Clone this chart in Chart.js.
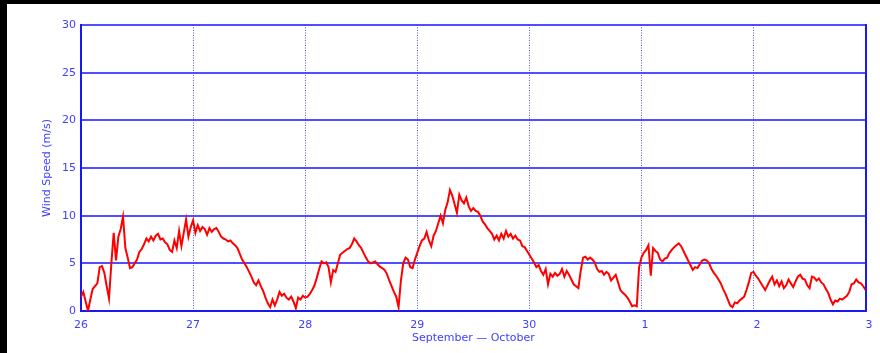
<!DOCTYPE html>
<html>
<head>
<meta charset="utf-8">
<script src="https://cdn.jsdelivr.net/npm/chart.js@4/dist/chart.umd.min.js"></script>
<style>
  html, body { margin: 0; padding: 0; background: #000; }
  body { width: 880px; height: 353px; position: relative; overflow: hidden; }
  #wrap { position: absolute; left: 7px; top: 4px; width: 873px; height: 349px; background: #fff; }
</style>
</head>
<body>
<div id="wrap"><canvas id="c"></canvas></div>
<script>
// Day labels along the time axis (Sep 26 -> Oct 3)
const dayLabels = ['26', '27', '28', '29', '30', '1', '2', '3'];
// Y axis tick values (m/s)
const speedTicks = [0, 5, 10, 15, 20, 25, 30];
// Half-hourly wind speed samples (m/s), starting Sep 26 00:00
const sampleStepHours = 0.5;
const windSpeed = [
  // Sep 26
  1.5, 2.0, 1.0, 0.0, 1.2, 2.3, 2.6, 2.9, 4.6, 4.7, 4.0, 2.6, 1.3, 5.0, 8.2, 5.3,
  7.8, 8.6, 9.9, 6.6, 5.6, 4.5, 4.6, 5.0, 5.4, 6.2, 6.5, 7.0, 7.6, 7.3, 7.8, 7.4,
  7.9, 8.1, 7.5, 7.6, 7.2, 7.0, 6.4, 6.2, 7.4, 6.6, 8.4, 6.8, 8.2, 9.6, 7.8, 8.8,
  // Sep 27
  9.5, 8.2, 9.0, 8.4, 8.8, 8.6, 8.0, 8.7, 8.3, 8.6, 8.7, 8.3, 7.8, 7.6, 7.5, 7.3,
  7.4, 7.1, 6.9, 6.6, 6.0, 5.4, 5.0, 4.6, 4.1, 3.6, 3.0, 2.7, 3.2, 2.6, 2.1, 1.4,
  0.8, 0.4, 1.2, 0.6, 1.2, 2.0, 1.6, 1.8, 1.4, 1.2, 1.5, 1.0, 0.3, 1.4, 1.2, 1.6,
  // Sep 28
  1.4, 1.5, 1.8, 2.2, 2.7, 3.5, 4.4, 5.2, 5.0, 5.1, 4.6, 3.0, 4.3, 4.1, 5.0, 5.9,
  6.1, 6.3, 6.5, 6.6, 7.0, 7.6, 7.3, 6.9, 6.6, 6.1, 5.6, 5.2, 5.0, 5.1, 5.2, 4.9,
  4.65, 4.5, 4.3, 3.9, 3.2, 2.6, 2.0, 1.5, 0.4, 3.2, 5.0, 5.6, 5.4, 4.6, 4.5, 5.4,
  // Sep 29
  6.1, 6.8, 7.4, 7.6, 8.3, 7.4, 6.8, 7.9, 8.4, 9.2, 10.0, 9.2, 10.6, 11.4, 12.7, 12.1,
  11.2, 10.3, 12.2, 11.6, 11.3, 11.9, 11.0, 10.5, 10.8, 10.5, 10.4, 10.0, 9.4, 9.1, 8.7, 8.4,
  8.1, 7.5, 7.9, 7.4, 8.1, 7.6, 8.4, 7.8, 8.1, 7.6, 7.9, 7.5, 7.4, 6.8, 6.7, 6.3,
  // Sep 30
  5.9, 5.5, 5.1, 4.6, 4.8, 4.2, 3.8, 4.4, 2.8, 3.9, 3.6, 4.0, 3.7, 3.9, 4.4, 3.6,
  4.2, 3.8, 3.3, 2.8, 2.6, 2.4, 4.2, 5.6, 5.7, 5.4, 5.6, 5.4, 5.1, 4.4, 4.1, 4.2,
  3.8, 4.1, 3.9, 3.2, 3.5, 3.8, 3.0, 2.2, 1.9, 1.7, 1.4, 1.0, 0.5, 0.6, 0.5, 4.6,
  // Oct 1
  5.6, 6.1, 6.4, 6.9, 3.7, 6.6, 6.3, 6.1, 5.4, 5.2, 5.5, 5.6, 6.1, 6.4, 6.7, 6.9,
  7.1, 6.8, 6.3, 5.8, 5.3, 4.8, 4.3, 4.6, 4.5, 4.9, 5.3, 5.4, 5.3, 5.0, 4.4, 4.0,
  3.7, 3.3, 2.9, 2.3, 1.8, 1.2, 0.6, 0.4, 0.9, 0.8, 1.1, 1.3, 1.5, 2.2, 3.0, 4.0,
  // Oct 2
  4.1, 3.7, 3.4, 3.0, 2.6, 2.2, 2.7, 3.2, 3.6, 2.8, 3.2, 2.6, 3.1, 2.4, 2.7, 3.3,
  2.9, 2.5, 3.1, 3.6, 3.8, 3.4, 3.3, 2.7, 2.4, 3.6, 3.5, 3.2, 3.4, 3.0, 2.8, 2.3,
  1.9, 1.2, 0.7, 1.1, 1.0, 1.3, 1.2, 1.4, 1.6, 2.0, 2.8, 2.9, 3.3, 3.0, 2.9, 2.6,
  // Oct 3 00:00
  2.2
];

const BLUE_TEXT = 'rgb(64,64,255)';
const BLUE_AXIS = 'rgb(24,24,240)';
const BLUE_GRID = 'rgba(48,48,255,0.85)';
const BLUE_DOTS = 'rgb(85,85,255)';
const FONT = { family: '"DejaVu Sans", Verdana, sans-serif', size: 11 };

const points = windSpeed.map((v, i) => ({ x: i * sampleStepHours, y: v }));

new Chart(document.getElementById('c'), {
  type: 'line',
  data: {
    datasets: [{
      label: 'Wind Speed',
      data: points,
      borderColor: '#ff0000',
      borderWidth: 2,
      pointRadius: 0,
      tension: 0,
      fill: false
    }]
  },
  options: {
    responsive: true,
    maintainAspectRatio: false,
    animation: false,
    events: [],
    layout: { padding: { top: 21, right: 0, bottom: 0, left: 0 } },
    plugins: { legend: { display: false }, tooltip: { enabled: false } },
    scales: {
      x: {
        type: 'linear',
        min: 0,
        max: (dayLabels.length - 1) * 24,
        afterFit: (s) => { s.height = 42; },
        afterBuildTicks: (s) => { s.ticks = dayLabels.map((_, i) => ({ value: i * 24 })); },
        ticks: {
          color: BLUE_TEXT,
          font: FONT,
          padding: 7.4,
          maxRotation: 0,
          autoSkip: false,
          callback: (v) => {
            const lbl = dayLabels[Math.round(v / 24)];
            return lbl.length === 1 ? '\u2007' + lbl : lbl;
          }
        },
        // dotted day separators
        grid: { color: BLUE_DOTS, lineWidth: 1, drawTicks: false },
        border: { display: true, color: BLUE_AXIS, width: 2, dash: [1, 1.5] },
        title: {
          display: true,
          text: 'September \u2014 October',
          color: BLUE_TEXT,
          font: FONT,
          padding: { top: 0, bottom: 7.9 }
        }
      },
      y: {
        min: 0,
        max: 30,
        afterFit: (s) => { s.width = 74; },
        afterBuildTicks: (s) => { s.ticks = speedTicks.map(v => ({ value: v })); },
        ticks: { color: BLUE_TEXT, font: FONT, padding: 5 },
        grid: { color: BLUE_GRID, lineWidth: 2, drawTicks: false },
        border: { display: true, color: BLUE_AXIS, width: 2 },
        title: {
          display: true,
          text: 'Wind Speed (m/s)',
          color: BLUE_TEXT,
          font: FONT,
          padding: { top: 33.9, bottom: 0 }
        }
      },
      yRight: {
        position: 'right',
        min: 0,
        max: 30,
        afterFit: (s) => { s.width = 14; },
        ticks: { display: false },
        grid: { drawOnChartArea: false, drawTicks: false },
        border: { display: true, color: BLUE_AXIS, width: 2 }
      }
    }
  }
});
</script>
</body>
</html>
